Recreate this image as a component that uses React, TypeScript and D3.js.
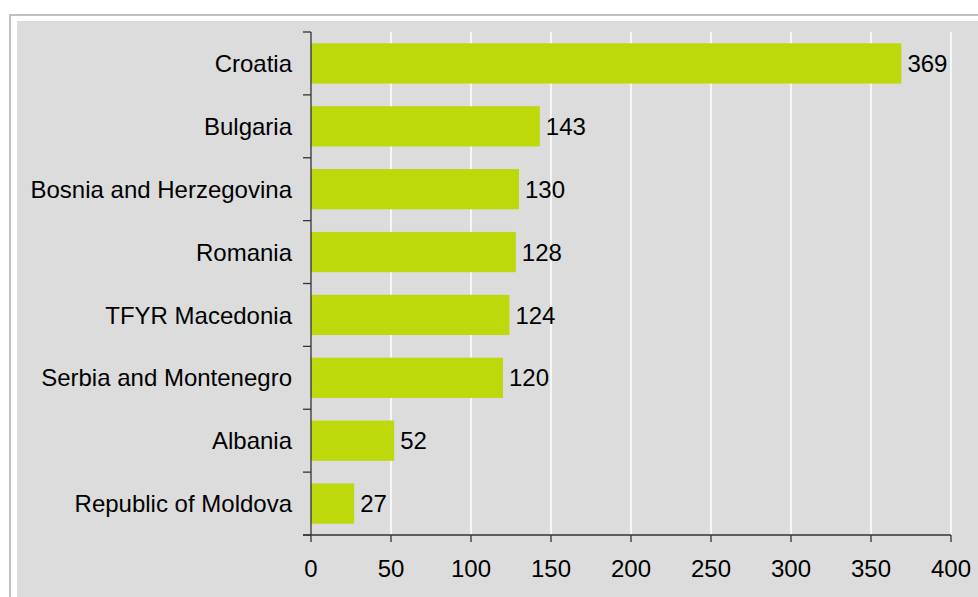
import React from "react";
import * as d3 from "d3";

const categories = [
  "Croatia",
  "Bulgaria",
  "Bosnia and Herzegovina",
  "Romania",
  "TFYR Macedonia",
  "Serbia and Montenegro",
  "Albania",
  "Republic of Moldova",
];
const values = [369, 143, 130, 128, 124, 120, 52, 27];
const xTicks = [0, 50, 100, 150, 200, 250, 300, 350, 400];

const W = 978;
const H = 597;
const FONT = "'Liberation Sans', Arial, sans-serif";
const FS = 24;

export default function App() {
  const x = d3.scaleLinear().domain([0, 400]).range([311, 951]);
  const y = d3
    .scaleBand<string>()
    .domain(categories)
    .range([32, 535])
    .paddingInner(0.36)
    .paddingOuter(0.18);
  const top = 32;
  const bottom = 535;
  const bounds = d3.range(categories.length + 1).map((i) => top + (i * (bottom - top)) / categories.length);

  return (
    <svg
      width={W}
      height={H}
      style={{ position: "absolute", left: 0, top: 0, display: "block" }}
      fontFamily={FONT}
    >
      <rect x={0} y={0} width={W} height={H} fill="#ffffff" />
      <rect x={10} y={15} width={W + 20} height={H + 20} fill="#ffffff" stroke="#c0c0c0" strokeWidth={2} />
      <rect x={17} y={21} width={W} height={H} fill="#dcdcdc" />
      {xTicks.slice(1).map((t) => (
        <line key={"g" + t} x1={x(t)} x2={x(t)} y1={top} y2={bottom} stroke="#ffffff" strokeWidth={1.5} />
      ))}
      {categories.map((c, i) => (
        <rect
          key={"b" + c}
          x={x(0)}
          y={y(c)!}
          width={x(values[i]) - x(0)}
          height={y.bandwidth()}
          fill="#bdd80b"
        />
      ))}
      <line x1={x(0)} x2={x(0)} y1={top} y2={bottom} stroke="#333" strokeWidth={1.3} />
      <line x1={303} x2={x(400)} y1={bottom} y2={bottom} stroke="#333" strokeWidth={1.3} />
      {bounds.map((b, i) => (
        <line key={"yt" + i} x1={303} x2={x(0)} y1={b} y2={b} stroke="#333" strokeWidth={1.3} />
      ))}
      {xTicks.map((t) => (
        <g key={"xt" + t}>
          <line x1={x(t)} x2={x(t)} y1={bottom} y2={bottom + 7} stroke="#333" strokeWidth={1.3} />
          <text x={x(t)} y={577} textAnchor="middle" fontSize={FS} fill="#000">
            {t}
          </text>
        </g>
      ))}
      {categories.map((c, i) => {
        const cy = y(c)! + y.bandwidth() / 2;
        return (
          <g key={"l" + c}>
            <text x={292} y={cy} dy="0.36em" textAnchor="end" fontSize={FS} fill="#000">
              {c}
            </text>
            <text x={x(values[i]) + 6} y={cy} dy="0.36em" textAnchor="start" fontSize={FS} fill="#000">
              {values[i]}
            </text>
          </g>
        );
      })}
    </svg>
  );
}
